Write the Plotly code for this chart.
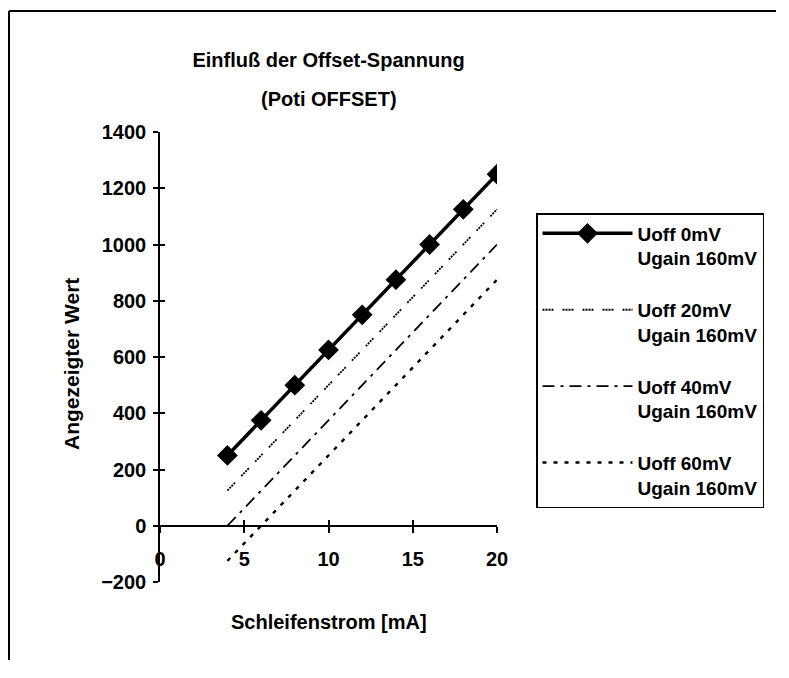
import plotly.graph_objects as go

# ---- data ----
strom_mA = [4, 6, 8, 10, 12, 14, 16, 18, 20]
uoff_0mV = [250, 375, 500, 625, 750, 875, 1000, 1125, 1250]
uoff_20mV = [125, 250, 375, 500, 625, 750, 875, 1000, 1125]
uoff_40mV = [0, 125, 250, 375, 500, 625, 750, 875, 1000]
uoff_60mV = [-125, 0, 125, 250, 375, 500, 625, 750, 875]
series_names = ["Uoff 0mV<br>Ugain 160mV", "Uoff 20mV<br>Ugain 160mV",
                "Uoff 40mV<br>Ugain 160mV", "Uoff 60mV<br>Ugain 160mV"]
x_ticks = [0, 5, 10, 15, 20]
y_ticks = [-200, 0, 200, 400, 600, 800, 1000, 1200, 1400]
title_line1 = "Einfluß der Offset-Spannung"
title_line2 = "(Poti OFFSET)"
x_title = "Schleifenstrom [mA]"
y_title = "Angezeigter Wert"

FONT = "Liberation Sans, Arial, sans-serif"
X_RANGE = [0, 20]
Y_RANGE = [-200, 1400]
x_axis_pos = (0 - Y_RANGE[0]) / (Y_RANGE[1] - Y_RANGE[0])

W, H = 768, 652
L, T = 152, 124
PW, PH = 337, 450
R = W - L - PW
B = H - T - PH
BOTTOM = T + PH  # pixel row of the plot bottom


def py(pix):
    """figure pixel row -> paper y"""
    return (BOTTOM - pix) / PH


def px(pix):
    """figure pixel column -> paper x"""
    return (pix - L) / PW


fig = go.Figure()
fig.add_trace(go.Scatter(x=strom_mA, y=uoff_0mV, name=series_names[0], mode="lines+markers",
                         line=dict(color="black", width=3.5),
                         marker=dict(symbol="diamond", size=16, color="black"),
                         legendgroup="a"))
fig.add_trace(go.Scatter(x=strom_mA, y=uoff_20mV, name=series_names[1], mode="lines",
                         line=dict(color="black", width=1.8, dash="2px,1px,2px,1px,2px,1px,2px,9px"),
                         legendgroup="b"))
fig.add_trace(go.Scatter(x=strom_mA, y=uoff_40mV, name=series_names[2], mode="lines",
                         line=dict(color="black", width=1.8, dash="12px,6px,3px,6px"),
                         legendgroup="c"))
fig.add_trace(go.Scatter(x=strom_mA, y=uoff_60mV, name=series_names[3], mode="lines",
                         line=dict(color="black", width=2.4, dash="4px,7px"),
                         legendgroup="d"))
# helper trace for the inner half of the cross ticks
fig.add_trace(go.Scatter(x=[None], y=[None], xaxis="x2", yaxis="y2", showlegend=False,
                         hoverinfo="skip"))

fig.update_layout(
    width=W, height=H,
    margin=dict(l=L, r=R, t=T, b=B),
    paper_bgcolor="white", plot_bgcolor="white",
    font=dict(family=FONT, color="black", size=20),
    title=dict(text="<b>" + title_line1 + "</b>", x=0.5, xref="paper", xanchor="center",
               y=1 - 52 / H, yref="container", yanchor="middle",
               font=dict(family=FONT, size=20, color="black")),
    xaxis=dict(range=X_RANGE, tickvals=x_ticks, showgrid=False, zeroline=False,
               showline=True, linecolor="black", linewidth=1.5,
               ticks="outside", ticklen=6, tickwidth=1.5, tickcolor="black",
               anchor="free", position=x_axis_pos, ticklabelstandoff=9,
               tickfont=dict(family=FONT, size=20, color="black", weight="bold")),
    yaxis=dict(range=Y_RANGE, tickvals=y_ticks, showgrid=False, zeroline=False,
               showline=True, linecolor="black", linewidth=1.5,
               ticks="outside", ticklen=5, tickwidth=1.5, tickcolor="black",
               ticklabelstandoff=3,
               tickfont=dict(family=FONT, size=20, color="black", weight="bold")),
    xaxis2=dict(range=X_RANGE, tickvals=x_ticks[1:], overlaying="x", showgrid=False,
                zeroline=False, showline=False, showticklabels=False,
                ticks="inside", ticklen=6, tickwidth=1.5, tickcolor="black",
                anchor="free", position=x_axis_pos),
    yaxis2=dict(range=Y_RANGE, tickvals=y_ticks, overlaying="y", showgrid=False,
                zeroline=False, showline=False, showticklabels=False, side="left",
                ticks="inside", ticklen=5, tickwidth=1.5, tickcolor="black", anchor="x2"),
    legend=dict(x=px(528), xanchor="left", y=py(205), yanchor="top",
                bordercolor="black", borderwidth=1.5, bgcolor="white",
                font=dict(family=FONT, size=19, color="black", weight="bold"),
                tracegroupgap=24, itemwidth=90, valign="top",
                traceorder="grouped"),
    showlegend=True,
)

fig.add_annotation(text="<b>" + title_line2 + "</b>", xref="paper", yref="paper",
                   x=0.5, y=py(91), xanchor="center", yanchor="middle",
                   showarrow=False, font=dict(family=FONT, size=20, color="black"))
fig.add_annotation(text="<b>" + x_title + "</b>", xref="paper", yref="paper",
                   x=0.5, y=py(614), xanchor="center", yanchor="middle",
                   showarrow=False, font=dict(family=FONT, size=20, color="black"))
fig.add_annotation(text="<b>" + y_title + "</b>", xref="paper", yref="paper",
                   x=px(63), y=py(356), xanchor="center", yanchor="middle",
                   textangle=-90, showarrow=False,
                   font=dict(family=FONT, size=21, color="black"))

# chart frame: only the left and top edges are visible in the scanned original
fig.add_shape(type="line", xref="paper", yref="paper",
              x0=px(1), x1=px(W + 40), y0=py(3), y1=py(3),
              line=dict(color="black", width=2), layer="below")
fig.add_shape(type="line", xref="paper", yref="paper",
              x0=px(1), x1=px(1), y0=py(3), y1=py(H + 40),
              line=dict(color="black", width=2), layer="below")

fig.write_html("out.html")
